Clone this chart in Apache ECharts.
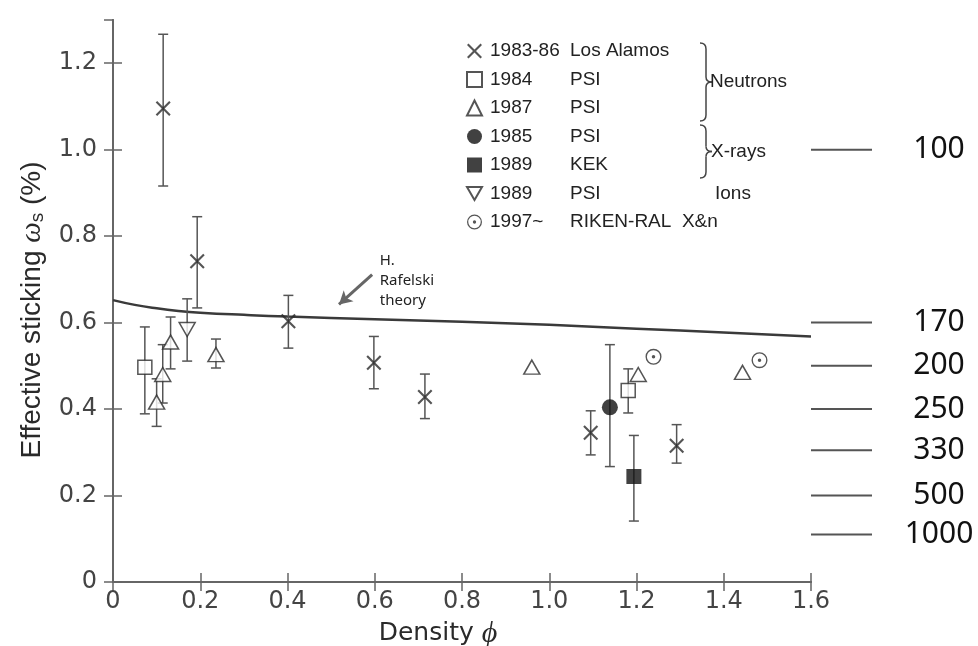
<!DOCTYPE html>
<html>
<head>
<meta charset="utf-8">
<script src="https://cdn.jsdelivr.net/npm/echarts@6/dist/echarts.min.js"></script>
<style>
  html, body { margin: 0; padding: 0; background: #fff; }
  #chart { width: 978px; height: 646px; }
</style>
</head>
<body>
<div id="chart"></div>
<script>
// Effective muon sticking ω_s versus target density φ.
// Each point: [density, sticking %, lower error, upper error]
const losAlamos = [
  [0.115, 1.095, 0.916, 1.267],
  [0.193, 0.742, 0.634, 0.845],
  [0.402, 0.603, 0.541, 0.663],
  [0.598, 0.507, 0.447, 0.568],
  [0.715, 0.428, 0.378, 0.481],
  [1.095, 0.345, 0.294, 0.396],
  [1.292, 0.315, 0.275, 0.364]
];
const psi1984 = [
  [0.073, 0.497, 0.389, 0.590],
  [1.181, 0.443, 0.391, 0.493]
];
const psi1987 = [
  [0.100, 0.416, 0.360, 0.470],
  [0.114, 0.480, 0.414, 0.549],
  [0.132, 0.555, 0.493, 0.613],
  [0.236, 0.526, 0.495, 0.562],
  [0.960, 0.497, null, null],
  [1.204, 0.480, null, null],
  [1.443, 0.485, null, null]
];
const psi1985 = [
  [1.139, 0.404, 0.267, 0.549]
];
const kek1989 = [
  [1.194, 0.244, 0.141, 0.339]
];
const psi1989 = [
  [0.170, 0.584, 0.511, 0.655]
];
const rikenRal = [
  [1.239, 0.521, null, null],
  [1.482, 0.513, null, null]
];

// Rafelski theory curve
const theoryCurve = [
  [0.00, 0.652], [0.05, 0.641], [0.10, 0.633], [0.15, 0.627], [0.20, 0.623],
  [0.30, 0.618], [0.40, 0.614], [0.60, 0.608], [0.80, 0.602], [1.00, 0.595],
  [1.20, 0.586], [1.40, 0.577], [1.60, 0.568]
];

// Scale marks drawn to the right of the frame
const sideLabels = ['100', '170', '200', '250', '330', '500', '1000'];
const sideLevels = [1.0, 0.6, 0.5, 0.4, 0.305, 0.2, 0.11];

// Legend rows: [year, laboratory, group note]
const legendRows = [
  ['1983-86', 'Los Alamos', ''],
  ['1984', 'PSI', ''],
  ['1987', 'PSI', ''],
  ['1985', 'PSI', ''],
  ['1989', 'KEK', ''],
  ['1989', 'PSI', 'Ions'],
  ['1997~', 'RIKEN-RAL  X&n', '']
];

const X_MAX = 1.6;
const AXIS_COLOR = '#666';
const INK = '#2a2a2a';

const crossPath = 'path://M0,1L1,0L5,4L9,0L10,1L6,5L10,9L9,10L5,6L1,10L0,9L4,5Z';
const invTriPath = 'path://M0,0L10,0L5,8.66Z';
const dotCirclePath = 'path://M0,10A10,10,0,1,1,20,10A10,10,0,1,1,0,10Z' +
  'M1.7,10A8.3,8.3,0,1,0,18.3,10A8.3,8.3,0,1,0,1.7,10Z' +
  'M7.8,10A2.2,2.2,0,1,1,12.2,10A2.2,2.2,0,1,1,7.8,10Z';

const openStyle = { color: '#fff', borderColor: INK, borderWidth: 1.5 };
const solidStyle = { color: '#111', borderColor: '#111', borderWidth: 0 };

const groups = [
  { data: losAlamos, symbol: crossPath, size: 15, style: { color: INK } },
  { data: psi1984, symbol: 'rect', size: 14, style: openStyle },
  { data: psi1987, symbol: 'triangle', size: [16, 14], style: openStyle },
  { data: psi1985, symbol: 'circle', size: 16, style: solidStyle },
  { data: kek1989, symbol: 'rect', size: 15, style: solidStyle },
  { data: psi1989, symbol: invTriPath, size: [16, 14], style: openStyle },
  { data: rikenRal, symbol: dotCirclePath, size: 16, style: { color: INK } }
];

const seriesNames = legendRows.map(r => r[0] + ' ' + r[1]);

function renderErrorBar(params, api) {
  const x = api.value(0);
  const top = api.coord([x, api.value(2)]);
  const bot = api.coord([x, api.value(1)]);
  const half = 5;
  const st = { stroke: '#555', lineWidth: 1.5 };
  return {
    type: 'group',
    children: [
      { type: 'line', shape: { x1: top[0], y1: top[1], x2: bot[0], y2: bot[1] }, style: st },
      { type: 'line', shape: { x1: top[0] - half, y1: top[1], x2: top[0] + half, y2: top[1] }, style: st },
      { type: 'line', shape: { x1: bot[0] - half, y1: bot[1], x2: bot[0] + half, y2: bot[1] }, style: st }
    ]
  };
}

function renderSideMark(params, api) {
  const p = api.coord([api.value(0), api.value(1)]);
  const label = sideLabels[api.value(2)];
  return {
    type: 'group',
    children: [
      { type: 'line', shape: { x1: p[0], y1: p[1], x2: p[0] + 61, y2: p[1] },
        style: { stroke: '#555', lineWidth: 2 } },
      { type: 'text', x: p[0] + 128, y: p[1],
        style: { text: label, fontSize: 30, fontFamily: 'Noto Sans', fill: '#111',
                 align: 'center', verticalAlign: 'middle' } }
    ]
  };
}

const series = [];

series.push({
  type: 'line',
  name: 'theory',
  data: theoryCurve,
  smooth: true,
  showSymbol: false,
  silent: true,
  z: 1,
  lineStyle: { color: '#3a3a3a', width: 2.5 },
  markLine: {
    silent: true,
    symbol: ['none', 'arrow'],
    symbolSize: [11, 13],
    lineStyle: { color: '#666', width: 3, type: 'solid' },
    label: { show: false },
    data: [[{ coord: [0.594, 0.711] }, { coord: [0.518, 0.642] }]]
  },
  markPoint: {
    silent: true,
    symbol: 'circle',
    symbolSize: 0,
    data: [{ coord: [0.600, 0.697] }],
    label: {
      show: true,
      position: 'right',
      distance: 5,
      formatter: 'H.\nRafelski\ntheory',
      fontSize: 15,
      lineHeight: 20,
      fontFamily: 'Noto Sans',
      color: '#222',
      align: 'left'
    }
  }
});

groups.forEach((g, i) => {
  const bars = g.data.filter(p => p[2] !== null).map(p => [p[0], p[2], p[3]]);
  if (bars.length) {
    series.push({
      type: 'custom',
      name: seriesNames[i] + ' err',
      data: bars,
      encode: { x: 0, y: [1, 2] },
      renderItem: renderErrorBar,
      silent: true,
      z: 2
    });
  }
});

groups.forEach((g, i) => {
  series.push({
    type: 'scatter',
    name: seriesNames[i],
    data: g.data.map(p => [p[0], p[1]]),
    symbol: g.symbol,
    symbolSize: g.size,
    itemStyle: g.style,
    silent: true,
    z: 3
  });
});

series.push({
  type: 'custom',
  name: 'side scale',
  data: sideLevels.map((v, i) => [X_MAX, v, i]),
  renderItem: renderSideMark,
  clip: false,
  silent: true,
  z: 4
});

const legendText = {};
legendRows.forEach((r, i) => {
  legendText[seriesNames[i]] = '{g| }{a|' + r[0] + '}{b|' + r[1] + '}' + (r[2] ? '{c|' + r[2] + '}' : '');
});

function tickFmt(v) {
  return v === 0 ? '0' : v.toFixed(1);
}

const tickLabel = { fontSize: 24, color: '#444', fontFamily: 'DejaVu Sans', formatter: tickFmt };
const axisLine = { show: true, lineStyle: { color: AXIS_COLOR, width: 2 } };
const innerTick = { show: true, inside: true, length: 9, lineStyle: { color: AXIS_COLOR, width: 1.5 } };

// Curly brace grouping legend rows, built from curve and line pieces
function brace(x0, yTop, yBot) {
  const yMid = (yTop + yBot) / 2;
  const xm = x0 + 6, xp = x0 + 12;
  const st = { fill: 'none', stroke: '#444', lineWidth: 1.5 };
  return {
    type: 'group',
    silent: true,
    children: [
      { type: 'bezierCurve', shape: { x1: x0, y1: yTop, cpx1: xm, cpy1: yTop, x2: xm, y2: yTop + 6 }, style: st },
      { type: 'line', shape: { x1: xm, y1: yTop + 6, x2: xm, y2: yMid - 5 }, style: st },
      { type: 'bezierCurve', shape: { x1: xm, y1: yMid - 5, cpx1: xm, cpy1: yMid, x2: xp, y2: yMid }, style: st },
      { type: 'bezierCurve', shape: { x1: xp, y1: yMid, cpx1: xm, cpy1: yMid, x2: xm, y2: yMid + 5 }, style: st },
      { type: 'line', shape: { x1: xm, y1: yMid + 5, x2: xm, y2: yBot - 6 }, style: st },
      { type: 'bezierCurve', shape: { x1: xm, y1: yBot - 6, cpx1: xm, cpy1: yBot, x2: x0, y2: yBot }, style: st }
    ]
  };
}

const option = {
  backgroundColor: '#fff',
  animation: false,
  grid: { left: 113, right: 167, top: 20, bottom: 64, containLabel: false, outerBoundsMode: 'none' },
  xAxis: [
    {
      type: 'value', min: 0, max: X_MAX, interval: 0.2, position: 'bottom',
      axisLine: axisLine, axisTick: innerTick, splitLine: { show: false },
      axisLabel: Object.assign({ margin: 8 }, tickLabel),
      name: 'Density {p|ϕ}', nameLocation: 'middle', nameGap: 31,
      nameTextStyle: {
        fontSize: 25, color: INK, fontFamily: 'DejaVu Sans', padding: [0, 48, 0, 0],
        rich: { p: { fontSize: 30, fontFamily: 'Liberation Serif', fontStyle: 'italic', color: INK } }
      }
    },
    {
      type: 'value', min: 0, max: X_MAX, interval: 0.2, position: 'top',
      axisLine: axisLine, axisTick: innerTick, splitLine: { show: false },
      axisLabel: { show: false }
    }
  ],
  yAxis: [
    {
      type: 'value', min: 0, max: 1.3, interval: 0.2, position: 'left',
      axisLine: axisLine, axisTick: innerTick, splitLine: { show: false },
      axisLabel: Object.assign({ margin: 16, showMaxLabel: false }, tickLabel),
      name: 'Effective sticking {w|ω}{s|s} (%)', nameLocation: 'middle', nameGap: 66,
      nameRotate: 90,
      nameTextStyle: {
        fontSize: 28, color: INK, fontFamily: 'Liberation Sans', padding: [0, 18, 0, 0],
        rich: {
          w: { fontSize: 29, fontFamily: 'Liberation Serif', fontStyle: 'italic', color: INK },
          s: { fontSize: 19, fontFamily: 'Liberation Sans', color: INK, verticalAlign: 'bottom' }
        }
      }
    },
    {
      type: 'value', min: 0, max: 1.3, interval: 0.2, position: 'right',
      axisLine: axisLine, axisTick: innerTick, splitLine: { show: false },
      axisLabel: { show: false }
    }
  ],
  legend: {
    data: seriesNames,
    orient: 'vertical',
    left: 461,
    top: 36,
    itemWidth: 15,
    itemHeight: 15,
    itemGap: 8.5,
    selectedMode: false,
    formatter: name => legendText[name],
    textStyle: {
      fontSize: 19, color: '#222', fontFamily: 'Liberation Sans', lineHeight: 20,
      rich: {
        g: { width: 3, fontSize: 19, lineHeight: 20 },
        a: { width: 80, fontSize: 19, lineHeight: 20, fontFamily: 'Liberation Sans', color: '#222' },
        b: { width: 145, fontSize: 19, lineHeight: 20, fontFamily: 'Liberation Sans', color: '#222' },
        c: { fontSize: 19, lineHeight: 20, fontFamily: 'Liberation Sans', color: '#222' }
      }
    }
  },
  graphic: [
    brace(700, 43, 121),
    brace(700, 125, 178),
    { type: 'text', x: 710, y: 82, silent: true,
      style: { text: 'Neutrons', fontSize: 19, fontFamily: 'Liberation Sans', fill: '#222', verticalAlign: 'middle' } },
    { type: 'text', x: 711, y: 152, silent: true,
      style: { text: 'X-rays', fontSize: 19, fontFamily: 'Liberation Sans', fill: '#222', verticalAlign: 'middle' } }
  ],
  series: series
};

const chart = echarts.init(document.getElementById('chart'), null, { renderer: 'canvas' });
chart.setOption(option);
</script>
</body>
</html>
